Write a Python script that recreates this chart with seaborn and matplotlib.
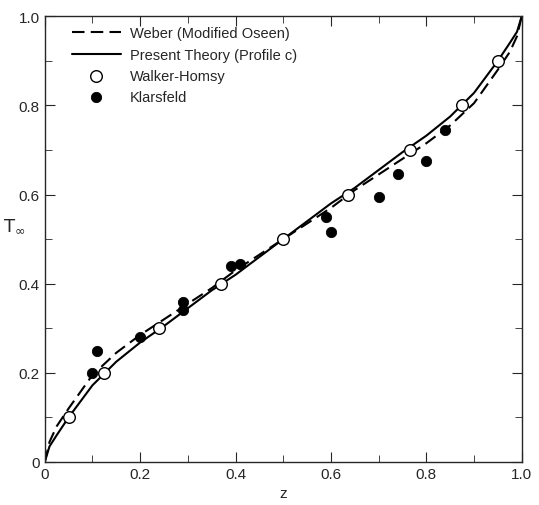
import numpy as np
import pandas as pd
import matplotlib
matplotlib.use('Agg')
import matplotlib.pyplot as plt
import seaborn as sns

# curve values
z_curve = [0.0, 0.01, 0.025, 0.05, 0.1, 0.15, 0.2, 0.25, 0.3, 0.35, 0.4, 0.5,
           0.6, 0.65, 0.7, 0.75, 0.8, 0.85, 0.9, 0.95, 0.975, 0.99, 1.0]
t_present = [0.0, 0.035, 0.06, 0.10, 0.172, 0.225, 0.268, 0.305, 0.345, 0.385, 0.42, 0.5,
             0.58, 0.615, 0.655, 0.695, 0.732, 0.775, 0.828, 0.90, 0.94, 0.965, 1.0]
t_weber = [0.0, 0.045, 0.08, 0.12, 0.195, 0.245, 0.285, 0.32, 0.355, 0.39, 0.43, 0.5,
           0.57, 0.61, 0.645, 0.68, 0.715, 0.755, 0.805, 0.88, 0.92, 0.955, 1.0]

# Walker-Homsy (open circles)
z_walker = [0.05, 0.125, 0.24, 0.37, 0.50, 0.635, 0.765, 0.875, 0.95]
t_walker = [0.10, 0.20, 0.30, 0.40, 0.50, 0.60, 0.70, 0.80, 0.90]

# Klarsfeld (filled circles)
z_klars = [0.10, 0.11, 0.20, 0.29, 0.29, 0.39, 0.41, 0.59, 0.60, 0.70, 0.74, 0.80, 0.84]
t_klars = [0.20, 0.25, 0.28, 0.34, 0.36, 0.44, 0.445, 0.55, 0.515, 0.595, 0.645, 0.675, 0.745]

tick_pos = [0.0, 0.2, 0.4, 0.6, 0.8, 1.0]
tick_lab = ['0', '0.2', '0.4', '0.6', '0.8', '1.0']
minor_pos = [0.1, 0.3, 0.5, 0.7, 0.9]

sns.set_style("ticks")
plt.rcParams['font.family'] = ['Liberation Sans', 'DejaVu Sans']

fig, ax = plt.subplots(figsize=(5.39, 5.06), dpi=100)

sns.lineplot(x=z_curve, y=t_weber, ax=ax, color='black', lw=1.5,
             linestyle=(0, (6, 3)), label='Weber (Modified Oseen)')
sns.lineplot(x=z_curve, y=t_present, ax=ax, color='black', lw=1.5,
             label='Present Theory (Profile c)')
sns.scatterplot(x=z_walker, y=t_walker, ax=ax, s=70, facecolor='white',
                edgecolor='black', linewidth=1.0, zorder=4, label='Walker-Homsy')
sns.scatterplot(x=z_klars, y=t_klars, ax=ax, s=55, color='black',
                edgecolor='black', zorder=4, label='Klarsfeld')

ax.set_xlim(0, 1)
ax.set_ylim(0, 1)
ax.set_xticks(tick_pos)
ax.set_xticklabels(tick_lab)
ax.set_yticks(tick_pos)
ax.set_yticklabels(tick_lab)
ax.set_xticks(minor_pos, minor=True)
ax.set_yticks(minor_pos, minor=True)
ax.tick_params(which='both', direction='in', top=True, right=True, labelsize=11)
ax.tick_params(which='major', length=7)
ax.tick_params(which='minor', length=5)
for sp in ax.spines.values():
    sp.set_linewidth(1.0)

ax.set_xlabel('z', fontsize=11)
ax.set_ylabel(r'$\mathrm{T}_{\infty}$', fontsize=13, rotation=0)
ax.yaxis.set_label_coords(-0.065, 0.51)

ax.legend(loc='upper left', bbox_to_anchor=(0.035, 1.0), frameon=False,
          fontsize=10.5, handlelength=3.4, handletextpad=0.6,
          borderaxespad=0.3, labelspacing=0.5)

plt.subplots_adjust(left=0.083, right=0.968, top=0.966, bottom=0.085)
plt.savefig('out.png', dpi=100)
